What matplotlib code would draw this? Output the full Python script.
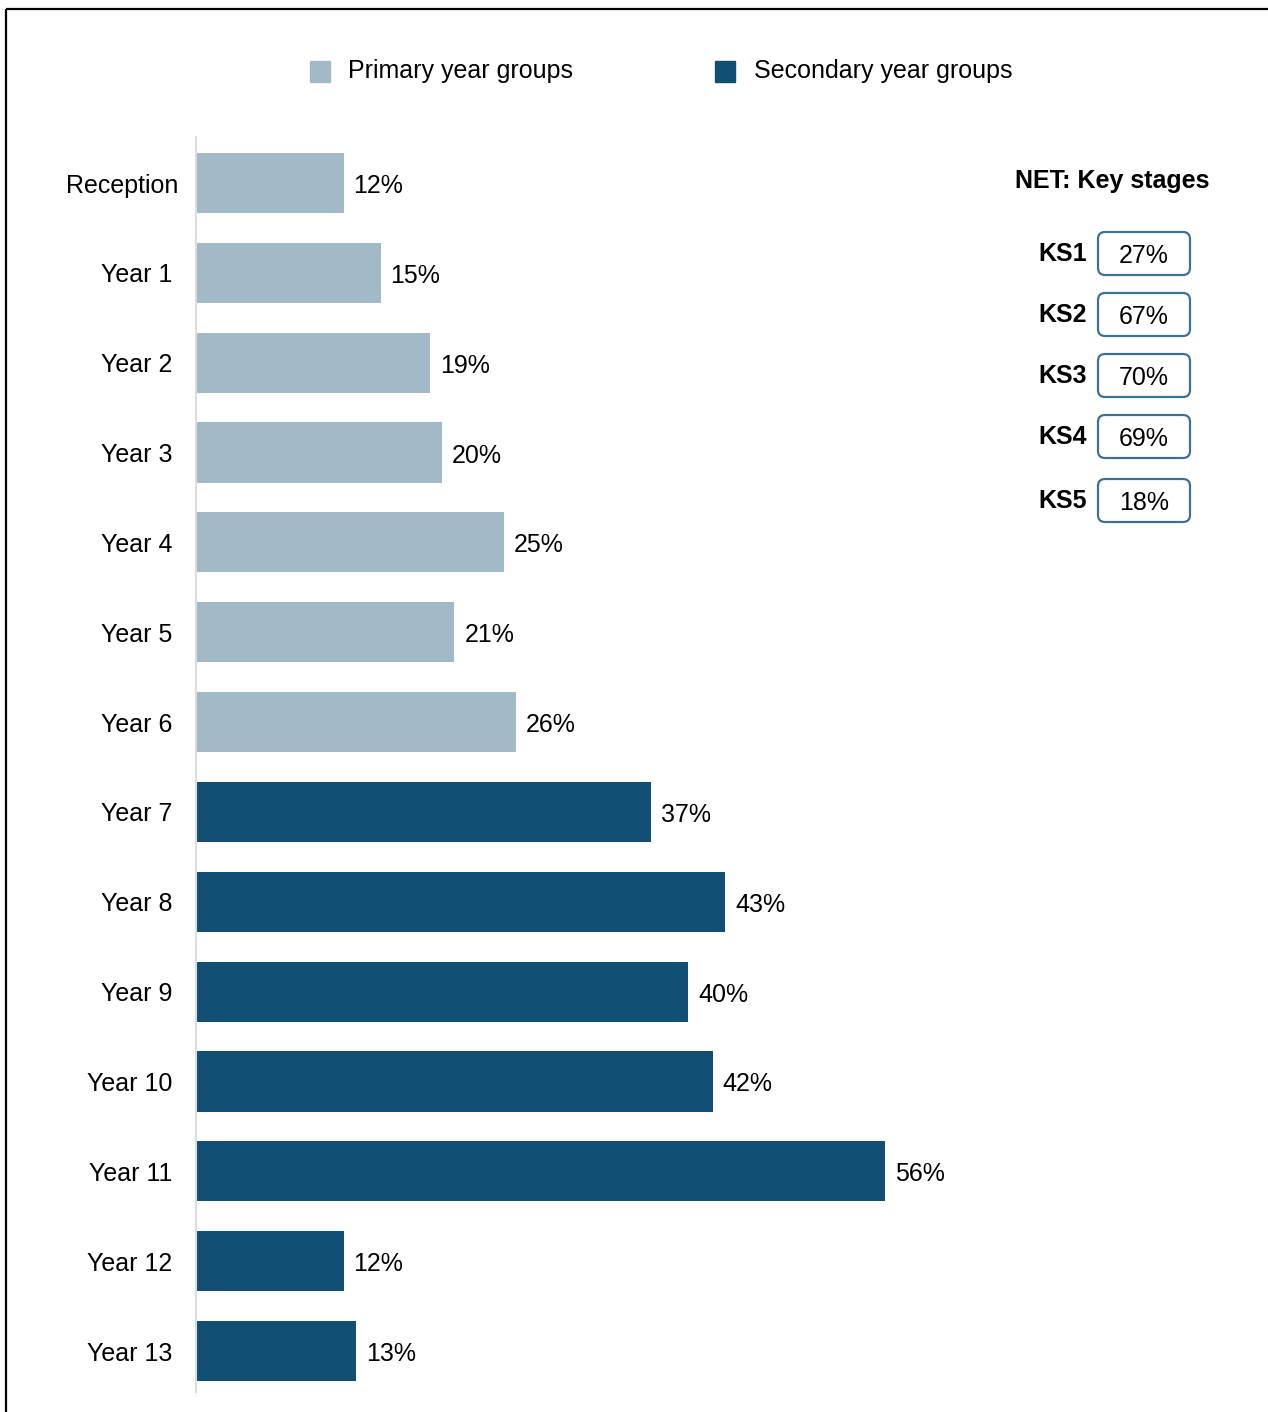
import matplotlib
matplotlib.use("Agg")
import matplotlib.pyplot as plt
from matplotlib.patches import FancyBboxPatch, Rectangle
import numpy as np

plt.rcParams['font.family'] = ['Liberation Sans', 'DejaVu Sans']

year_groups = ["Reception", "Year 1", "Year 2", "Year 3", "Year 4", "Year 5", "Year 6",
               "Year 7", "Year 8", "Year 9", "Year 10", "Year 11", "Year 12", "Year 13"]
values = [12, 15, 19, 20, 25, 21, 26, 37, 43, 40, 42, 56, 12, 13]
is_secondary = [False] * 7 + [True] * 7

key_stages = ["KS1", "KS2", "KS3", "KS4", "KS5"]
key_stage_values = [27, 67, 70, 69, 18]

LIGHT = "#A2B9C8"
DARK = "#114F74"
BOX_EDGE = "#3F7196"

W, H = 1268, 1412
fig = plt.figure(figsize=(W / 100, H / 100), dpi=100)

# bar chart area
ax = fig.add_axes([196 / W, 1 - 1392 / H, 1000 / W, (1392 - 137) / H])
y = np.arange(len(year_groups))
colors = [DARK if s else LIGHT for s in is_secondary]
bars = ax.barh(y, values, height=0.67, color=colors)
ax.set_xlim(0, 1000 / 12.3)
ax.set_ylim(len(year_groups) - 1 + 0.456, -0.512)
for spine in ["top", "right", "bottom"]:
    ax.spines[spine].set_visible(False)
ax.spines["left"].set_color("#dcdcdc")
ax.spines["left"].set_linewidth(1.5)
ax.set_xticks([])
ax.set_yticks(y)
ax.set_yticklabels(year_groups, fontsize=18)
ax.tick_params(axis="y", length=0, pad=17)
ax.get_yticklabels()[0].set_x(0.006)
for bar, v in zip(bars, values):
    ax.annotate(f"{v}%", (bar.get_width(), bar.get_y() + bar.get_height() / 2),
                xytext=(10, -3), textcoords="offset pixels",
                va="center", ha="left", fontsize=18)

# overlay in pixel units for legend, key stage panel and frame
ov = fig.add_axes([0, 0, 1, 1])
ov.set_xlim(0, W)
ov.set_ylim(H, 0)
ov.axis("off")
ov.set_zorder(5)
ov.patch.set_visible(False)

# legend
ov.add_patch(Rectangle((310, 61), 20, 21, color=LIGHT))
ov.text(348, 71, "Primary year groups", fontsize=18, va="center", ha="left")
ov.add_patch(Rectangle((715, 61), 20, 21, color=DARK))
ov.text(754, 71, "Secondary year groups", fontsize=18, va="center", ha="left")

# key stage panel
ov.text(1112, 181, "NET: Key stages", fontsize=18, fontweight="bold", va="center", ha="center")
ks_y = [253, 314, 375, 436, 500]
for name, v, yy in zip(key_stages, key_stage_values, ks_y):
    ov.text(1087, yy + 1, name, fontsize=18, fontweight="bold", va="center", ha="right")
    ov.add_patch(FancyBboxPatch((1098, yy - 21), 92, 43,
                                boxstyle="round,pad=0,rounding_size=7",
                                fc="white", ec=BOX_EDGE, lw=1.6))
    ov.text(1144, yy + 3, f"{v}%", fontsize=18, va="center", ha="center")

# frame
ov.plot([6, W], [9, 9], color="black", lw=1.6, solid_capstyle="butt")
ov.plot([6, 6], [9, H], color="black", lw=1.6, solid_capstyle="butt")

fig.savefig("out.png", dpi=100)
